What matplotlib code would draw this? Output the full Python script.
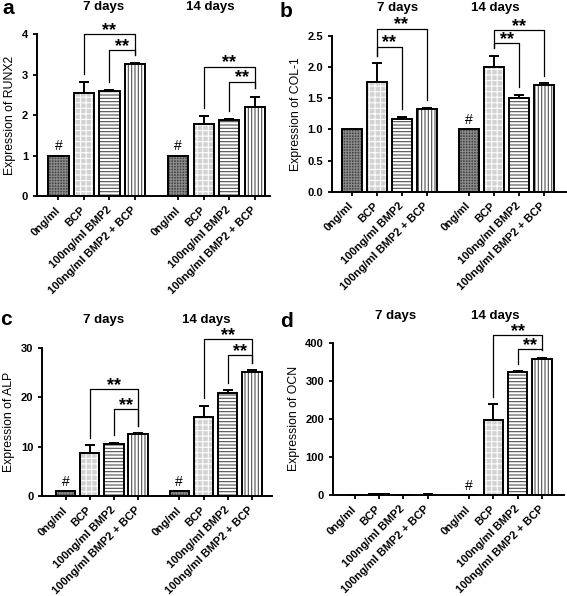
import numpy as np
import matplotlib
matplotlib.use('Agg')
import matplotlib.pyplot as plt

plt.rcParams['font.family'] = ['Liberation Sans', 'DejaVu Sans']
plt.rcParams['font.weight'] = 'bold'
plt.rcParams['hatch.linewidth'] = 0.8

groups = ['0ng/ml', 'BCP', '100ng/ml BMP2', '100ng/ml BMP2 + BCP']
days = ['7 days', '14 days']

# values: 7 days then 14 days
runx2 = [1.0, 2.54, 2.60, 3.27, 1.0, 1.78, 1.88, 2.20]
runx2_err = [0, 0.29, 0.03, 0.02, 0, 0.19, 0.02, 0.26]
col1 = [1.0, 1.76, 1.16, 1.33, 1.0, 2.00, 1.51, 1.72]
col1_err = [0, 0.30, 0.04, 0.01, 0, 0.18, 0.05, 0.02]
alp = [1.0, 8.7, 10.5, 12.5, 1.0, 16.0, 20.8, 25.0]
alp_err = [0, 1.6, 0.3, 0.25, 0, 2.3, 0.55, 0.5]
ocn = [1.0, 2.0, 1.1, 1.3, 1.0, 198, 323, 358]
ocn_err = [0, 0.5, 0.1, 0.1, 0, 40, 2, 2]

W, H = 567, 596
fig = plt.figure(figsize=(W / 100, H / 100), dpi=100)

xs = np.r_[np.arange(4), np.arange(4) + 4.7]

# bar styles: face, hatch, hatch colour
styles = [('#444444', '++++++', '#8a8a8a'),
          ('#d2d2d2', '+++', 'white'),
          ('white', '-----', '#505050'),
          ('white', '|||||', '#505050')]


def panel(box, xlim, vals, errs, ymax, yticks, ylabel, fmt, brackets, hashes, letter, titles):
    left, right, y0, ytop = box
    ax = fig.add_axes([left / W, (H - y0) / H, (right - left) / W, (y0 - ytop) / H])
    vals = np.array(vals)
    errs = np.array(errs)
    for k in range(8):
        face, hatch, hc = styles[k % 4]
        ax.bar(xs[k], vals[k], width=0.8, color=face, hatch=hatch, edgecolor=hc, linewidth=0, zorder=2)
    ax.bar(xs, vals, width=0.8, fill=False, edgecolor='black', linewidth=1.4, zorder=3)
    ax.errorbar(xs, vals, yerr=[np.zeros(8), errs], fmt='none', ecolor='black',
                elinewidth=1.4, capsize=3.5, capthick=1.4, zorder=1)
    ax.set_xlim(*xlim)
    ax.set_ylim(0, ymax)
    ax.set_yticks(yticks)
    ax.set_yticklabels([fmt.format(t) for t in yticks], fontsize=8)
    ax.set_xticks(xs)
    ax.set_xticklabels(groups * 2, rotation=45, ha='right', va='center',
                       rotation_mode='anchor', fontsize=8)
    ax.tick_params(axis='x', pad=6)
    ax.set_ylabel(ylabel, fontsize=8.8)
    for s in ['top', 'right']:
        ax.spines[s].set_visible(False)
    for s in ['left', 'bottom']:
        ax.spines[s].set_linewidth(1.4)
    ax.tick_params(width=1.3, length=3)

    tops = vals + errs
    pad = 0.05 * ymax
    for i, j, yl in brackets:
        ax.plot([xs[i], xs[i], xs[j], xs[j]], [tops[i] + pad, yl, yl, tops[j] + pad],
                color='black', linewidth=0.9, clip_on=False, zorder=4)
        ax.annotate('**', ((xs[i] + xs[j]) / 2, yl), xytext=(0, -3.5),
                    textcoords='offset points', ha='center', va='bottom',
                    fontsize=13, annotation_clip=False)
    for k in hashes:
        ax.annotate('#', (xs[k], vals[k]), xytext=(0, 1.5), textcoords='offset points',
                    ha='center', va='bottom', fontsize=10, fontweight='normal')

    lx, ly = letter[1]
    fig.text(lx / W, (H - ly) / H, letter[0], fontsize=15, ha='left', va='baseline')
    for t, (tx, ty) in zip(days, titles):
        fig.text(tx / W, (H - ty) / H, t, fontsize=9.5, ha='center', va='center')
    return ax


panel((37, 270, 196, 34.3), (-0.84, 8.3), runx2, runx2_err, 4, [0, 1, 2, 3, 4],
      'Expression of RUNX2', '{:g}',
      [(1, 3, 4.0), (2, 3, 3.6), (5, 7, 3.2), (6, 7, 2.83)], [0, 4],
      ('a', (2, 14)), [(104, 7), (210, 7)])

panel((332, 566, 191.7, 36), (-0.78, 8.58), col1, col1_err, 2.5, [0, 0.5, 1, 1.5, 2, 2.5],
      'Expression of COL-1', '{:.1f}',
      [(1, 3, 2.62), (1, 2, 2.33), (5, 7, 2.6), (5, 6, 2.38)], [4],
      ('b', (280, 17)), [(397.7, 8), (495, 8)])

panel((42.3, 272, 496, 347.7), (-0.96, 8.53), alp, alp_err, 30, [0, 10, 20, 30],
      'Expression of ALP', '{:g}',
      [(1, 3, 21.6), (2, 3, 17.5), (5, 7, 31.7), (6, 7, 28.5)], [0, 4],
      ('c', (0, 325)), [(104, 320), (206.7, 320)])

panel((333, 564, 495, 342.7), (-0.89, 8.6), ocn, ocn_err, 400, [0, 100, 200, 300, 400],
      'Expression of OCN', '{:g}',
      [(5, 7, 420), (6, 7, 383)], [4],
      ('d', (280, 327)), [(396, 316), (495, 316)])

fig.savefig('out.png', dpi=100)
